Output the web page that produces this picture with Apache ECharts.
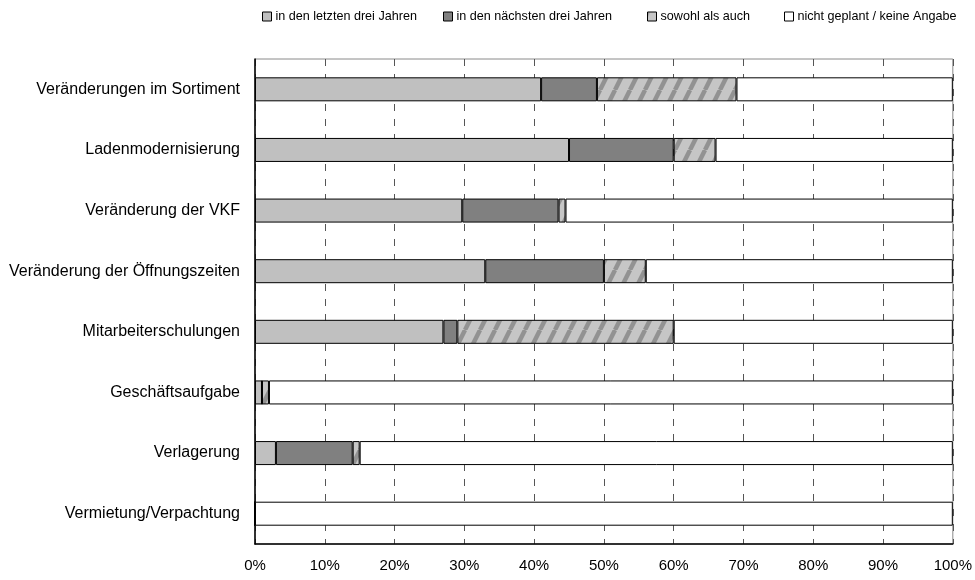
<!DOCTYPE html>
<html>
<head>
<meta charset="utf-8">
<script src="https://cdn.jsdelivr.net/npm/echarts@6/dist/echarts.min.js"></script>
<style>
  html, body { margin: 0; padding: 0; background: #fff; }
  #chart { width: 975px; height: 580px; }
</style>
</head>
<body>
<div id="chart"></div>
<script>
// Geplante und durchgeführte Maßnahmen im Einzelhandel (Anteile in %)
const categories = [
  'Veränderungen im Sortiment',
  'Ladenmodernisierung',
  'Veränderung der VKF',
  'Veränderung der Öffnungszeiten',
  'Mitarbeiterschulungen',
  'Geschäftsaufgabe',
  'Verlagerung',
  'Vermietung/Verpachtung'
];
const seriesNames = [
  'in den letzten drei Jahren',
  'in den nächsten drei Jahren',
  'sowohl als auch',
  'nicht geplant / keine Angabe'
];
const letzteJahre   = [41, 45, 29.7, 33, 27, 1, 3, 0];
const naechsteJahre = [8, 15, 13.8, 17, 2, 0, 11, 0];
const sowohlAlsAuch = [20, 6, 1, 6, 31, 1, 1, 0];
const nichtGeplant  = [31, 34, 55.5, 44, 40, 98, 85, 100];
const xTicks = [0, 10, 20, 30, 40, 50, 60, 70, 80, 90, 100];

// horizontal start of each legend entry
const legendLeft = [262, 443, 647, 784];

// diagonal hatch fill for "sowohl als auch"
function hatchPattern() {
  const c = document.createElement('canvas');
  c.width = 15; c.height = 30;
  const g = c.getContext('2d');
  g.fillStyle = '#c6c6c6';
  g.fillRect(0, 0, 15, 30);
  g.strokeStyle = '#929292';
  g.lineWidth = 4.5;
  for (let x0 = -15; x0 <= 15; x0 += 15) {
    g.beginPath();
    g.moveTo(x0, 30);
    g.lineTo(x0 + 15, 0);
    g.stroke();
  }
  return c;
}

const chart = echarts.init(document.getElementById('chart'));
const FONT = '"Liberation Sans", Arial, sans-serif';

function barSeries(name, data, fill) {
  return {
    name: name,
    type: 'bar',
    stack: 'total',
    data: data,
    barWidth: 24,
    itemStyle: { color: fill, borderColor: '#000', borderWidth: 1 },
    emphasis: { disabled: true }
  };
}

chart.setOption({
  animation: false,
  backgroundColor: '#fff',
  textStyle: { fontFamily: FONT },
  legend: seriesNames.map((name, i) => ({
    left: legendLeft[i],
    top: 10,
    padding: 0,
    icon: 'rect',
    itemWidth: 9,
    itemHeight: 9,
    selectedMode: false,
    itemStyle: { borderWidth: 1, borderColor: '#000' },
    textStyle: { fontFamily: FONT, fontSize: 12.6, color: '#000', padding: [0, 0, 0, -1] },
    data: [name]
  })),
  grid: {
    left: 255, right: 22, top: 59, bottom: 36,
    show: true, borderColor: '#8a8a8a', borderWidth: 1
  },
  xAxis: {
    type: 'value',
    min: xTicks[0],
    max: xTicks[xTicks.length - 1],
    interval: 10,
    axisLine: { show: true, lineStyle: { color: '#000', width: 1.5 } },
    axisTick: { show: false },
    axisLabel: {
      color: '#000', fontSize: 15, fontFamily: FONT, margin: 14,
      formatter: v => v + '%'
    },
    splitLine: { show: true, lineStyle: { color: '#555', width: 1, type: [7, 8] } }
  },
  yAxis: {
    type: 'category',
    inverse: true,
    data: categories,
    axisLine: { show: true, lineStyle: { color: '#000', width: 1.5 } },
    axisTick: { show: false },
    axisLabel: { color: '#000', fontSize: 16, fontFamily: FONT, margin: 15 },
    splitLine: { show: false }
  },
  series: [
    barSeries(seriesNames[0], letzteJahre, '#c0c0c0'),
    barSeries(seriesNames[1], naechsteJahre, '#808080'),
    barSeries(seriesNames[2], sowohlAlsAuch, { image: hatchPattern(), repeat: 'repeat' }),
    barSeries(seriesNames[3], nichtGeplant, '#ffffff')
  ]
});
</script>
</body>
</html>
